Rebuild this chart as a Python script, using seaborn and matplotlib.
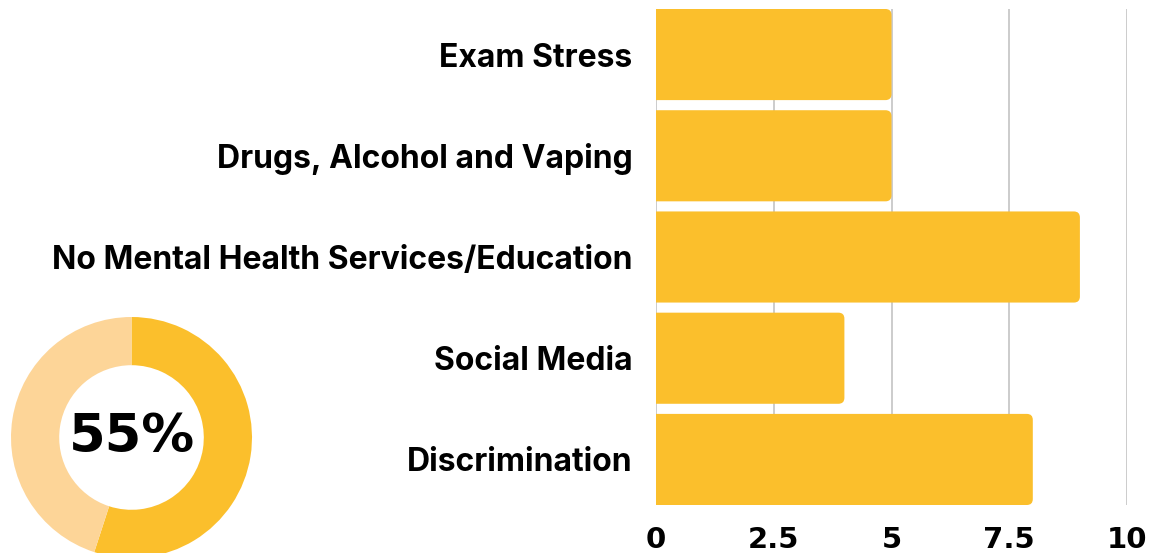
import matplotlib
matplotlib.use("Agg")
import matplotlib.pyplot as plt
import matplotlib.transforms as mtransforms
from matplotlib.patches import FancyBboxPatch
import seaborn as sns
import pandas as pd

# Reported concerns and how many respondents raised each one
categories = [
    "Exam Stress",
    "Drugs, Alcohol and Vaping",
    "No Mental Health Services/Education",
    "Social Media",
    "Discrimination",
]
counts = [5, 5, 9, 4, 8]
x_ticks = [0, 2.5, 5, 7.5, 10]
x_tick_labels = ["0", "2.5", "5", "7.5", "10"]

# Share shown in the ring chart
share_pct = 55
ring_values = [share_pct, 100 - share_pct]
ring_label = f"{share_pct}%"

BAR_COLOR = "#FBBF2C"
RING_REST = "#FDD598"
GRID_COLOR = "#C8C8C8"

sns.set_theme(style="white")
plt.rcParams["font.family"] = ["Inter", "DejaVu Sans"]
plt.rcParams["text.color"] = "black"

W, H = 1162, 553
fig = plt.figure(figsize=(W / 100, H / 100), dpi=100)
fig.patch.set_facecolor("white")

# Bar chart
ax_left, ax_right, ax_top, ax_bottom = 656, 1127, 9, 505
ax = fig.add_axes([ax_left / W, 1 - ax_bottom / H,
                   (ax_right - ax_left) / W, (ax_bottom - ax_top) / H])
df = pd.DataFrame({"category": categories, "count": counts})
sns.barplot(data=df, x="count", y="category", color=BAR_COLOR, saturation=1,
            width=0.9, ax=ax, zorder=3)
ax.set_xlim(0, 10)
ax.set_ylim(len(categories) - 0.55, -0.45)
ax.set_xticks(x_ticks)
ax.set_xticklabels(x_tick_labels, fontfamily="DejaVu Sans", fontweight="bold",
                   fontsize=21, color="black")
ax.set_yticks(range(len(categories)))
ax.set_yticklabels(categories, fontweight="bold", fontsize=23, color="black")
lift = mtransforms.ScaledTranslation(0, 3 / 100, fig.dpi_scale_trans)
for t in ax.get_yticklabels():
    t.set_transform(t.get_transform() + lift)
ax.tick_params(axis="both", length=0)
ax.tick_params(axis="x", pad=15)
ax.tick_params(axis="y", pad=17)
ax.set_xlabel("")
ax.set_ylabel("")
ax.grid(axis="x", color=GRID_COLOR, linewidth=1.3, zorder=0)
ax.set_axisbelow(True)
for s in ax.spines.values():
    s.set_visible(False)

# Give each bar a softly rounded right end (left end is clipped at zero)
px_x = (ax_right - ax_left) / 10.0
px_y = (ax_bottom - ax_top) / (len(categories) - 0.1)
round_px = 6
for p in list(ax.patches):
    x0, y0, w, h = p.get_x(), p.get_y(), p.get_width(), p.get_height()
    p.set_visible(False)
    ext = 0.3
    rb = FancyBboxPatch((x0 - ext, y0), w + ext, h,
                        boxstyle=f"round,pad=0,rounding_size={round_px / px_x}",
                        mutation_aspect=px_x / px_y,
                        facecolor=BAR_COLOR, edgecolor="none", zorder=3,
                        clip_on=True)
    ax.add_patch(rb)

# Ring chart in the lower left corner
r = 120.5
cx, cy = 131.5, 437.5
rax = fig.add_axes([(cx - r) / W, 1 - (cy + r) / H, 2 * r / W, 2 * r / H])
rax.pie(ring_values, colors=[BAR_COLOR, RING_REST], startangle=90,
        counterclock=False, radius=1,
        wedgeprops=dict(width=0.4, edgecolor="none"))
rax.set_xlim(-1, 1)
rax.set_ylim(-1, 1)
rax.set_aspect("equal")
rax.axis("off")
rax.text(0, 0, ring_label, ha="center", va="center", fontsize=38,
         fontweight="bold", fontfamily="DejaVu Sans", color="black")

fig.savefig("out.png", dpi=100)
